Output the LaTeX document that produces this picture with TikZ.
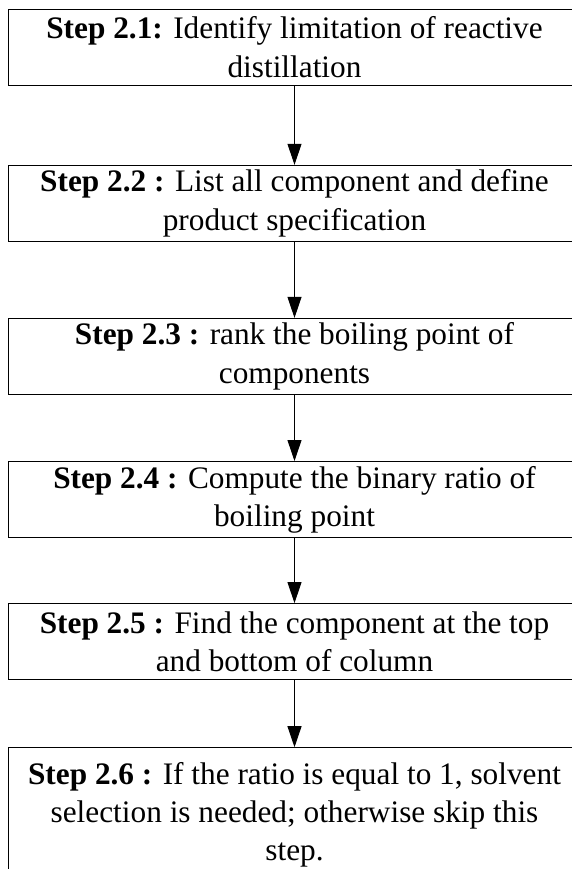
\documentclass[tikz,border=0pt]{standalone}
\usepackage{fontspec}
\setmainfont{Liberation Serif}
\usepackage{tikz}
\usetikzlibrary{arrows.meta, positioning}

\begin{document}
\begin{tikzpicture}[
      stepbox/.style={rectangle, draw=black, line width=1.1pt, align=center, minimum width=572pt, minimum height=76pt, inner sep=2pt, font=\fontsize{31.3}{38.3}\selectfont},
      arr/.style={-{Triangle[length=21pt, width=14pt]}, line width=0.9pt, black},
    ]
    \useasboundingbox (0pt,0pt) rectangle (572pt,-869pt);
    \node[stepbox, anchor=north] (s21) at (294.5pt,-8.7pt) {\textbf{Step 2.1:} Identify limitation of reactive\\distillation};
    \node[stepbox, below=79pt of s21] (s22) {\textbf{Step 2.2 :} List all component and define\\product specification};
    \node[stepbox, below=76pt of s22] (s23) {\textbf{Step 2.3 :} rank the boiling point of\\components};
    \node[stepbox, below=66pt of s23] (s24) {\textbf{Step 2.4 :} Compute the binary ratio of\\boiling point};
    \node[stepbox, below=65pt of s24] (s25) {\textbf{Step 2.5 :} Find the component at the top\\and bottom of column};
    \node[stepbox, below=67pt of s25, minimum height=134pt] (s26) {\textbf{Step 2.6 :} If the ratio is equal to 1, solvent\\selection is needed; otherwise skip this\\step.};
    \draw[arr] (s21) -- (s22); \draw[arr] (s22) -- (s23);
    \draw[arr] (s23) -- (s24); \draw[arr] (s24) -- (s25);
    \draw[arr] (s25) -- (s26);
  \end{tikzpicture}
\end{document}
